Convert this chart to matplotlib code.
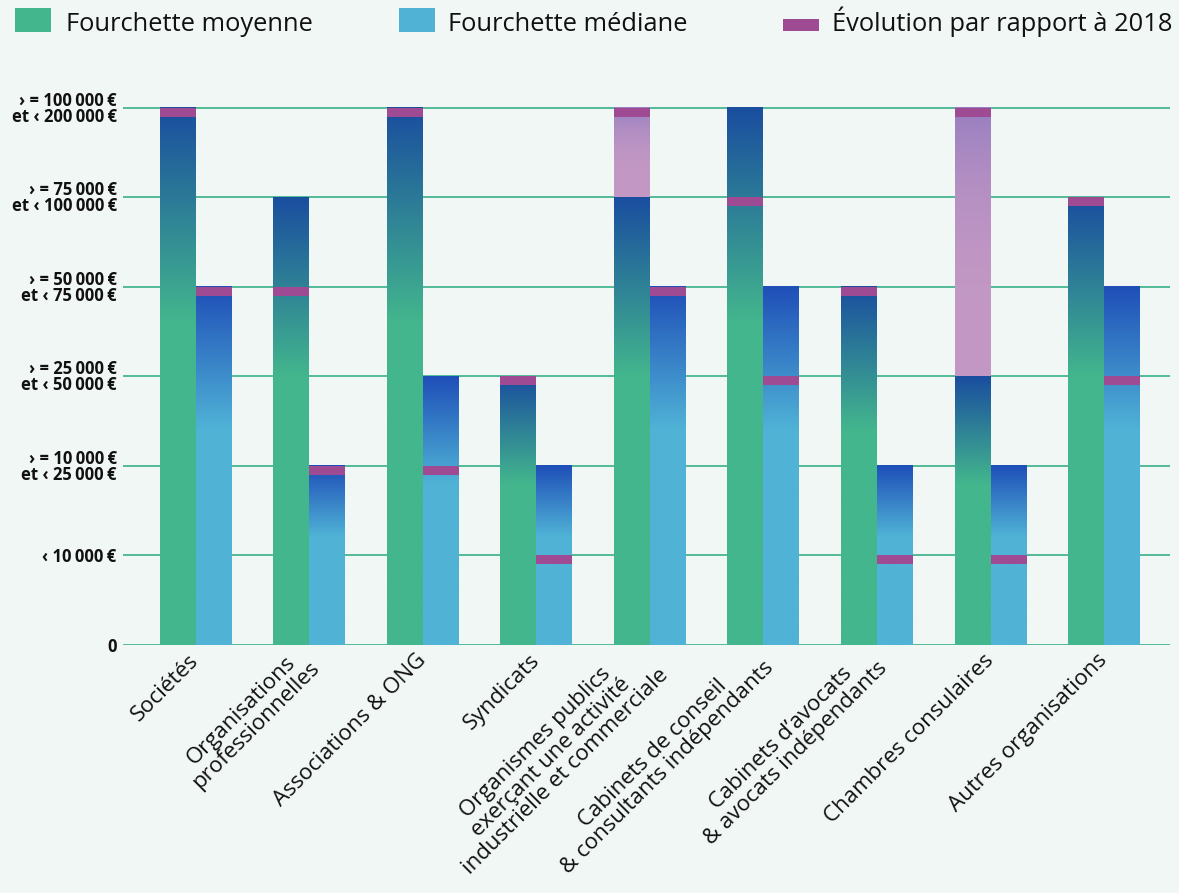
import numpy as np
import matplotlib
matplotlib.use("Agg")
import matplotlib.pyplot as plt
from matplotlib.colors import to_rgb
from matplotlib.patches import Rectangle

# salary bands (0 = none, 6 = highest band) per type of organisation
categories = [
    "Sociétés",
    "Organisations\nprofessionnelles",
    "Associations & ONG",
    "Syndicats",
    "Organismes publics\nexerçant une activité\nindustrielle et commerciale",
    "Cabinets de conseil\n& consultants indépendants",
    "Cabinets d\u2019avocats\n& avocats indépendants",
    "Chambres consulaires",
    "Autres organisations",
]
moy_now = [6, 5, 6, 3, 5, 6, 4, 3, 5]
moy_2018 = [6, 4, 6, 3, 6, 5, 4, 6, 5]
med_now = [4, 2, 3, 2, 4, 4, 2, 2, 4]
med_2018 = [4, 2, 2, 1, 4, 3, 1, 1, 3]

ytick_labels = [
    "0",
    "\u2039 10\u2009000\u2009€",
    "\u203a = 10\u2009000\u2009€\net \u2039 25\u2009000\u2009€",
    "\u203a = 25\u2009000\u2009€\net \u2039 50\u2009000\u2009€",
    "\u203a = 50\u2009000\u2009€\net \u2039 75\u2009000\u2009€",
    "\u203a = 75\u2009000\u2009€\net \u2039 100\u2009000\u2009€",
    "\u203a = 100\u2009000\u2009€\net \u2039 200\u2009000\u2009€",
]

BG = "#f1f7f5"
GREEN = "#43b68d"
GREEN_TOP = "#1a4e9f"
BLUE = "#50b3d6"
BLUE_TOP = "#1f4fb8"
PURPLE = "#9e4b94"
LILAC = "#c398c4"
LILAC_TOP = "#967ec0"
GRID = "#45b58f"

FONT = ["Open Sans", "DejaVu Sans"]
plt.rcParams["font.family"] = FONT

W, H = 1179, 893
fig = plt.figure(figsize=(W / 100, H / 100), dpi=100, facecolor=BG)
ax = fig.add_axes([123 / W, 1 - 645 / H, (1170 - 123) / W, (645 - 103.5) / H])
ax.set_facecolor(BG)


def gradient(c0, c1, n=256, start=0.6, power=1.0):
    t = np.linspace(0, 1, n)
    s = np.clip((t - start) / (1 - start), 0, 1) ** power
    a = np.array(to_rgb(c0))
    b = np.array(to_rgb(c1))
    col = a[None, :] * (1 - s[:, None]) + b[None, :] * s[:, None]
    return col[:, None, :]


def draw_bar(x0, x1, top, prev, c0, c1):
    # lighter bar showing the 2018 level when the band dropped
    if prev > top:
        ax.imshow(gradient(LILAC, LILAC_TOP, start=0.0, power=3.0), origin="lower",
                  extent=[x0, x1, top, prev], aspect="auto", zorder=2,
                  interpolation="bilinear")
    ax.imshow(gradient(c0, c1), origin="lower", extent=[x0, x1, 0, top],
              aspect="auto", zorder=2, interpolation="bilinear")
    ax.bar((x0 + x1) / 2, 0.1, bottom=prev - 0.1, width=x1 - x0,
           color=PURPLE, zorder=3, linewidth=0)


w = 0.317
x = np.arange(len(categories))
for i in x:
    draw_bar(i - w, i, moy_now[i], moy_2018[i], GREEN, GREEN_TOP)
    draw_bar(i, i + w, med_now[i], med_2018[i], BLUE, BLUE_TOP)

for lvl in range(len(ytick_labels)):
    ax.axhline(lvl, color=GRID, lw=1.3, zorder=1)

ax.set_xlim(-0.64, 8.58)
ax.set_ylim(0, 6.05)
for s in ax.spines.values():
    s.set_visible(False)

ax.set_yticks(range(len(ytick_labels)))
ax.set_yticklabels(ytick_labels, fontsize=12, fontweight="bold",
                   linespacing=0.85, color="#111111")
ax.tick_params(axis="y", length=0, pad=4.5)

ax.set_xticks(x)
ax.set_xticklabels(categories, rotation=45, ha="right", va="center",
                   rotation_mode="anchor", fontsize=16, color="#111111",
                   multialignment="center", linespacing=1.0)
ax.tick_params(axis="x", length=0, pad=9)

# legend along the top
legend_items = [
    (15, 8, 36, 24, GREEN, 66, "Fourchette moyenne"),
    (399, 8, 36, 24, BLUE, 448, "Fourchette médiane"),
    (783, 19, 36, 12, PURPLE, 832, "Évolution par rapport à 2018"),
]
for px, py, pw, ph, col, tx, label in legend_items:
    fig.patches.append(Rectangle((px / W, 1 - (py + ph) / H), pw / W, ph / H,
                                 transform=fig.transFigure, color=col, lw=0))
    fig.text(tx / W, 1 - 31 / H, label, fontsize=18.4, color="#111111",
             va="baseline", ha="left")

fig.savefig("out.png", dpi=100, facecolor=BG)
